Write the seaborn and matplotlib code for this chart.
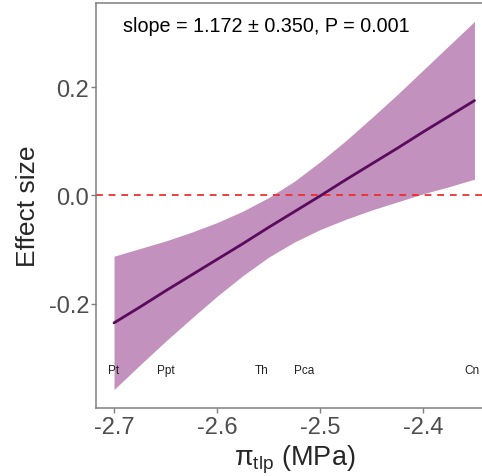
import matplotlib
matplotlib.use("Agg")
import matplotlib.pyplot as plt
import numpy as np
import pandas as pd
import seaborn as sns

# fitted line and its confidence band
x_grid = [-2.700, -2.675, -2.650, -2.625, -2.600, -2.575, -2.550, -2.525,
          -2.500, -2.475, -2.450, -2.425, -2.400, -2.375, -2.350]
fit = [-0.235, -0.206, -0.176, -0.147, -0.118, -0.089, -0.059, -0.030,
       -0.001, 0.029, 0.058, 0.087, 0.117, 0.146, 0.175]
ci_low = [-0.358, -0.313, -0.269, -0.227, -0.186, -0.148, -0.114, -0.086,
          -0.063, -0.044, -0.027, -0.012, 0.003, 0.016, 0.030]
ci_high = [-0.112, -0.098, -0.084, -0.068, -0.050, -0.029, -0.004, 0.026,
           0.062, 0.101, 0.143, 0.186, 0.231, 0.276, 0.321]

# species labels along the bottom
species = ["Pt", "Ppt", "Th", "Pca", "Cn"]
species_x = [-2.700, -2.650, -2.557, -2.515, -2.352]
label_y = -0.322

xticks = [-2.7, -2.6, -2.5, -2.4]
yticks = [-0.2, 0.0, 0.2]
annot = "slope = 1.172 \u00b1 0.350, P = 0.001"

df = pd.DataFrame({"x": x_grid, "fit": fit, "lo": ci_low, "hi": ci_high})

sns.set_style("white")
plt.rcParams["font.family"] = ["Liberation Sans", "DejaVu Sans"]

fig = plt.figure(figsize=(4.82, 4.77), dpi=100)
# right edge of the panel is cropped in the reference
ax = fig.add_axes([96 / 482, 68 / 477, 396.5 / 482, 405 / 477])

ax.fill_between(df["x"], df["lo"], df["hi"], color="#c391bd", lw=0, zorder=1)
sns.lineplot(data=df, x="x", y="fit", color="#5a0b5e", lw=2, ax=ax, zorder=3)
ax.axhline(0, color="#ee2a2a", lw=1.4, ls=(0, (3.5, 3)), alpha=0.9, zorder=2)

for name, sx in zip(species, species_x):
    ax.text(sx, label_y, name, ha="center", va="center", fontsize=8.5, color="#222222")

ax.text(-2.691, 0.303, annot, ha="left", va="baseline", fontsize=14.2, color="black")

ax.set_xlim(-2.7175, -2.3325)
ax.set_ylim(-0.392, 0.355)
ax.set_xticks(xticks)
ax.set_xticklabels([f"{t:.1f}" for t in xticks])
ax.set_yticks(yticks)
ax.set_yticklabels([f"{t:.1f}" for t in yticks])

ax.set_xlabel(r"$\mathregular{\pi_{tlp}}$ (MPa)", fontsize=19.5, labelpad=3)
ax.set_ylabel("Effect size", fontsize=19, labelpad=6)

for side in ["left", "top", "bottom", "right"]:
    ax.spines[side].set_visible(True)
    ax.spines[side].set_color("#7f7f7f")
    ax.spines[side].set_linewidth(1.1)
ax.tick_params(axis="both", which="both", direction="out", length=3.3, width=1,
               color="#7f7f7f", labelsize=17, labelcolor="#4d4d4d",
               bottom=True, left=True)
ax.tick_params(axis="x", pad=2.5)
ax.tick_params(axis="y", pad=1.5)

fig.savefig("out.png", dpi=100)
